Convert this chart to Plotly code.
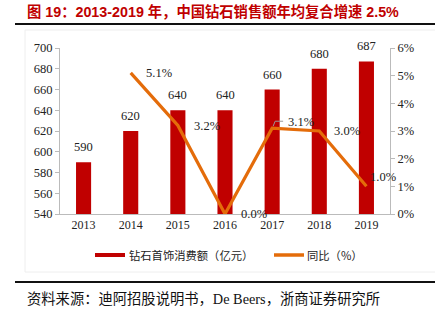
import plotly.graph_objects as go

years = ["2013", "2014", "2015", "2016", "2017", "2018", "2019"]
sales = [590, 620, 640, 640, 660, 680, 687]
yoy_years = ["2014", "2015", "2016", "2017", "2018", "2019"]
yoy = [5.1, 3.2, 0.0, 3.1, 3.0, 1.0]
yoy_labels = ["5.1%", "3.2%", "0.0%", "3.1%", "3.0%", "1.0%"]
left_ticks = [540, 560, 580, 600, 620, 640, 660, 680, 700]
right_ticks = [0, 1, 2, 3, 4, 5, 6]
right_tick_text = ["0%", "1%", "2%", "3%", "4%", "5%", "6%"]

W, H = 435, 322
L, R, T, B = 60, 390, 48, 214  # plot area in pixels

def px(x):
    return (x - L) / (R - L)

def py(y):
    return (B - y) / (B - T)

BAR = "#C00000"
LINE = "#E46C0A"
SERIF = "Liberation Serif, Times New Roman, Noto Sans CJK SC"

fig = go.Figure()
fig.add_trace(go.Bar(
    x=years, y=sales, marker_color=BAR, marker_line_width=0,
    cliponaxis=False, name="钻石首饰消费额（亿元）",
))
for xv, v in zip(years, sales):
    fig.add_annotation(x=years.index(xv), y=v, text=str(v), showarrow=False,
                       xanchor="center", yanchor="bottom", yshift=6,
                       font=dict(family=SERIF, size=12.5, color="#222"))
fig.add_trace(go.Scatter(
    x=yoy_years, y=yoy, yaxis="y2", mode="lines",
    line=dict(color=LINE, width=3.2), name="同比（%）", cliponaxis=False,
))

xshifts = [13, 14, 14, 14, 13, 2]
yshifts = [0, -1, 0, 6, 0, 9]
for xv, yv, t, xs, ys in zip(yoy_years, yoy, yoy_labels, xshifts, yshifts):
    fig.add_annotation(x=years.index(xv), y=yv, yref="y2", text=t, showarrow=False,
                       xanchor="left", yanchor="middle", xshift=xs, yshift=ys,
                       font=dict(family=SERIF, size=12.5, color="#222"))

# small leader bracket for the 2017 label
i17 = yoy_years.index("2017")
fig.add_shape(type="path", xref="x", yref="y2", xsizemode="pixel", ysizemode="pixel",
              xanchor=years.index("2017"), yanchor=yoy[i17],
              path="M 1,2 L 3,7 L 11,7", line=dict(color="#999999", width=1))

# title
fig.add_annotation(xref="paper", yref="paper", x=px(25), y=py(12), text="<b>图 19：2013-2019 年，中国钻石销售额年均复合增速 2.5%</b>",
                   showarrow=False, xanchor="left", yanchor="middle",
                   font=dict(family="Liberation Sans, Arial, Noto Sans CJK SC", size=14.3, color="#C00000"))
# source
fig.add_annotation(xref="paper", yref="paper", x=px(25), y=py(299), text="资料来源：迪阿招股说明书，De Beers，浙商证券研究所",
                   showarrow=False, xanchor="left", yanchor="middle",
                   font=dict(family=SERIF, size=14.3, color="#111"))
# separator lines
for yy in (24, 282):
    fig.add_shape(type="line", xref="paper", yref="paper", x0=px(15), x1=px(435), y0=py(yy), y1=py(yy),
                  line=dict(color="#111", width=2))
# faint chart frame
fig.add_shape(type="rect", xref="paper", yref="paper", x0=px(25), x1=px(436), y0=py(30), y1=py(272),
              line=dict(color="#EEEEEE", width=1), layer="below")

# manual legend
fig.add_shape(type="rect", xref="paper", yref="paper", x0=px(95), x1=px(125), y0=py(253), y1=py(257),
              line=dict(width=0), fillcolor=BAR)
fig.add_annotation(xref="paper", yref="paper", x=px(127), y=py(255), text="钻石首饰消费额（亿元）",
                   showarrow=False, xanchor="left", yanchor="middle",
                   font=dict(family="Noto Sans CJK SC", size=11.3, color="#222"))
fig.add_shape(type="line", xref="paper", yref="paper", x0=px(274), x1=px(304), y0=py(255), y1=py(255),
              line=dict(color=LINE, width=3.5))
fig.add_annotation(xref="paper", yref="paper", x=px(305), y=py(255), text="同比（%）",
                   showarrow=False, xanchor="left", yanchor="middle",
                   font=dict(family="Noto Sans CJK SC", size=11.3, color="#222"))

fig.update_layout(
    width=W, height=H, margin=dict(l=L, r=W - R, t=T, b=H - B),
    paper_bgcolor="white", plot_bgcolor="white", showlegend=False,
    bargap=0.68,
    xaxis=dict(type="category", range=[-0.5, len(years) - 0.5], showline=True, linecolor="#BBBBBB", linewidth=1, ticks="",
               tickfont=dict(family=SERIF, size=12, color="#222"), showgrid=False, fixedrange=True),
    yaxis=dict(range=[540, 700], tickvals=left_ticks, showline=True, linecolor="#BBBBBB", linewidth=1,
               ticks="outside", ticklen=4, tickcolor="#BBBBBB", showgrid=False, zeroline=False,
               tickfont=dict(family=SERIF, size=12.5, color="#222")),
    yaxis2=dict(range=[0, 6], overlaying="y", side="right", tickvals=right_ticks, ticktext=right_tick_text,
                showline=True, linecolor="#BBBBBB", linewidth=1, ticks="outside", ticklen=4,
                tickcolor="#BBBBBB", showgrid=False, zeroline=False,
                tickfont=dict(family=SERIF, size=12.5, color="#222")),
)

fig.write_html("out.html")
